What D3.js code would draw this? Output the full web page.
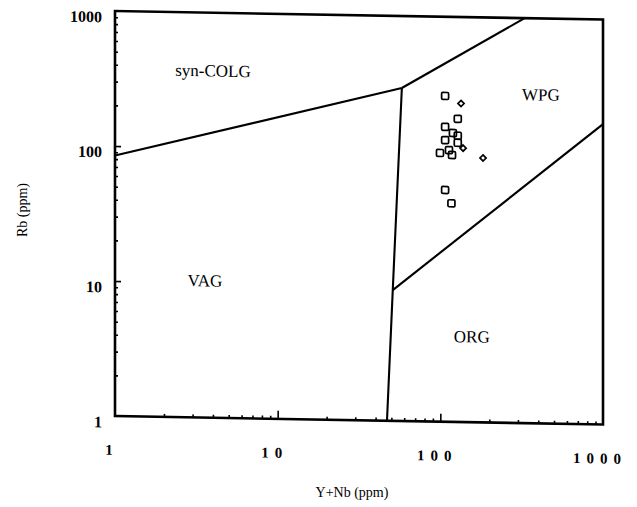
<!DOCTYPE html>
<html><head><meta charset="utf-8">
<script src="https://cdn.jsdelivr.net/npm/d3@7"></script>
<style>
body{margin:0;background:#fff}
svg{display:block}
text{font-family:"Liberation Serif","Times New Roman",serif;fill:#000}
</style>
</head><body>
<svg id="chart" width="637" height="507"></svg>
<script>
// Axis tick labels (log decades)
const xTickLabels = [1, 10, 100, 1000];
const yTickLabels = [1, 10, 100, 1000];

// Field boundaries, as [Y+Nb, Rb] vertices
const colgVagLine = [[1, 85], [58, 293]];
const colgWpgLine = [[58, 293], [330, 1000]];
const vagOrgLine  = [[58, 293], [51, 9.3], [47, 1]];
const orgWpgLine  = [[51, 9.3], [1000, 168]];

// Field names and their anchor positions [Y+Nb, Rb]
const fieldNames = ["syn-COLG", "WPG", "VAG", "ORG"];
const fieldAnchors = [[4.0, 370], [415, 271], [3.57, 10.3], [156, 4.28]];

// Samples: Y+Nb and Rb (ppm)
const squareYNb = [107, 128, 107, 119.5, 128, 107, 128, 99.5, 113, 118, 107, 117];
const squareRb  = [259, 176, 153, 138, 132, 122, 117, 97.8, 103, 94.8, 52.1, 41.6];
const diamondYNb = [134, 138, 183];
const diamondRb  = [229, 107, 90.9];

const W = 488, H = 405;
const svg = d3.select("#chart");

const x = d3.scaleLog().domain([1, 1000]).range([0, W]);
const y = d3.scaleLog().domain([1, 1000]).range([H, 0]);

// the printed frame leans slightly, so the plot is drawn with a small shear
const g = svg.append("g").attr("transform", "translate(115,11) skewY(1)");

// minor / major ticks, pointing inward
const minor = [];
for (let d = 1; d < 1000; d *= 10) for (let k = 2; k <= 9; k++) minor.push(d * k);
const major = [10, 100];

function tickAxis(axis, vals, size) {
  return axis.tickValues(vals).tickSize(size).tickFormat("");
}
const ax = [
  g.append("g").attr("transform", `translate(0,${H})`).call(tickAxis(d3.axisBottom(x), minor, -3)),
  g.append("g").attr("transform", `translate(0,${H})`).call(tickAxis(d3.axisBottom(x), major, -8)),
  g.append("g").call(tickAxis(d3.axisLeft(y), minor, -3)),
  g.append("g").call(tickAxis(d3.axisLeft(y), major, -6))
];
ax.forEach(a => {
  a.select(".domain").remove();
  a.selectAll("line").attr("stroke", "#000").attr("stroke-width", 1.6);
});

// frame
g.append("rect").attr("x", 0).attr("y", 0).attr("width", W).attr("height", H)
  .attr("fill", "none").attr("stroke", "#000").attr("stroke-width", 2.6);

// field boundaries
const line = d3.line().x(d => x(d[0])).y(d => y(d[1]));
[colgVagLine, colgWpgLine, vagOrgLine, orgWpgLine].forEach(pts => {
  g.append("path").attr("d", line(pts)).attr("fill", "none")
    .attr("stroke", "#000").attr("stroke-width", 2.1).attr("stroke-linejoin", "round");
});

// field names
g.selectAll("text.field").data(fieldNames).join("text")
  .attr("class", "field")
  .attr("x", (d, i) => x(fieldAnchors[i][0]))
  .attr("y", (d, i) => y(fieldAnchors[i][1]))
  .attr("text-anchor", "middle").attr("dominant-baseline", "central")
  .attr("font-size", 17)
  .text(d => d);

// samples
const sq = 7;
g.selectAll("rect.s").data(squareYNb).join("rect")
  .attr("class", "s")
  .attr("x", (d, i) => x(d) - sq / 2)
  .attr("y", (d, i) => y(squareRb[i]) - sq / 2)
  .attr("width", sq).attr("height", sq).attr("rx", 1.2)
  .attr("fill", "none").attr("stroke", "#000").attr("stroke-width", 1.7);
const diamond = d3.symbol().type(d3.symbolDiamond2).size(24);
g.selectAll("path.d").data(diamondYNb).join("path")
  .attr("class", "d")
  .attr("transform", (d, i) => `translate(${x(d)},${y(diamondRb[i])})`)
  .attr("d", diamond)
  .attr("fill", "none").attr("stroke", "#000").attr("stroke-width", 1.7);

// tick labels
g.selectAll("text.xl").data(xTickLabels).join("text")
  .attr("class", "xl")
  .attr("x", d => x(d) - 3).attr("y", H + 39)
  .attr("text-anchor", "middle").attr("font-size", 15).attr("font-weight", "bold")
  .attr("letter-spacing", 6)
  .text(d => d);
g.selectAll("text.yl").data(yTickLabels).join("text")
  .attr("class", "yl")
  .attr("x", -13).attr("y", d => y(d) + 6)
  .attr("text-anchor", "end").attr("dominant-baseline", "central")
  .attr("font-size", 16).attr("font-weight", "bold")
  .text(d => d);

// axis titles
svg.append("text").attr("x", 352).attr("y", 497)
  .attr("text-anchor", "middle").attr("font-size", 14)
  .text("Y+Nb (ppm)");
svg.append("text").attr("transform", "translate(27,210) rotate(-90)")
  .attr("text-anchor", "middle").attr("font-size", 14)
  .text("Rb (ppm)");
</script>
</body></html>
